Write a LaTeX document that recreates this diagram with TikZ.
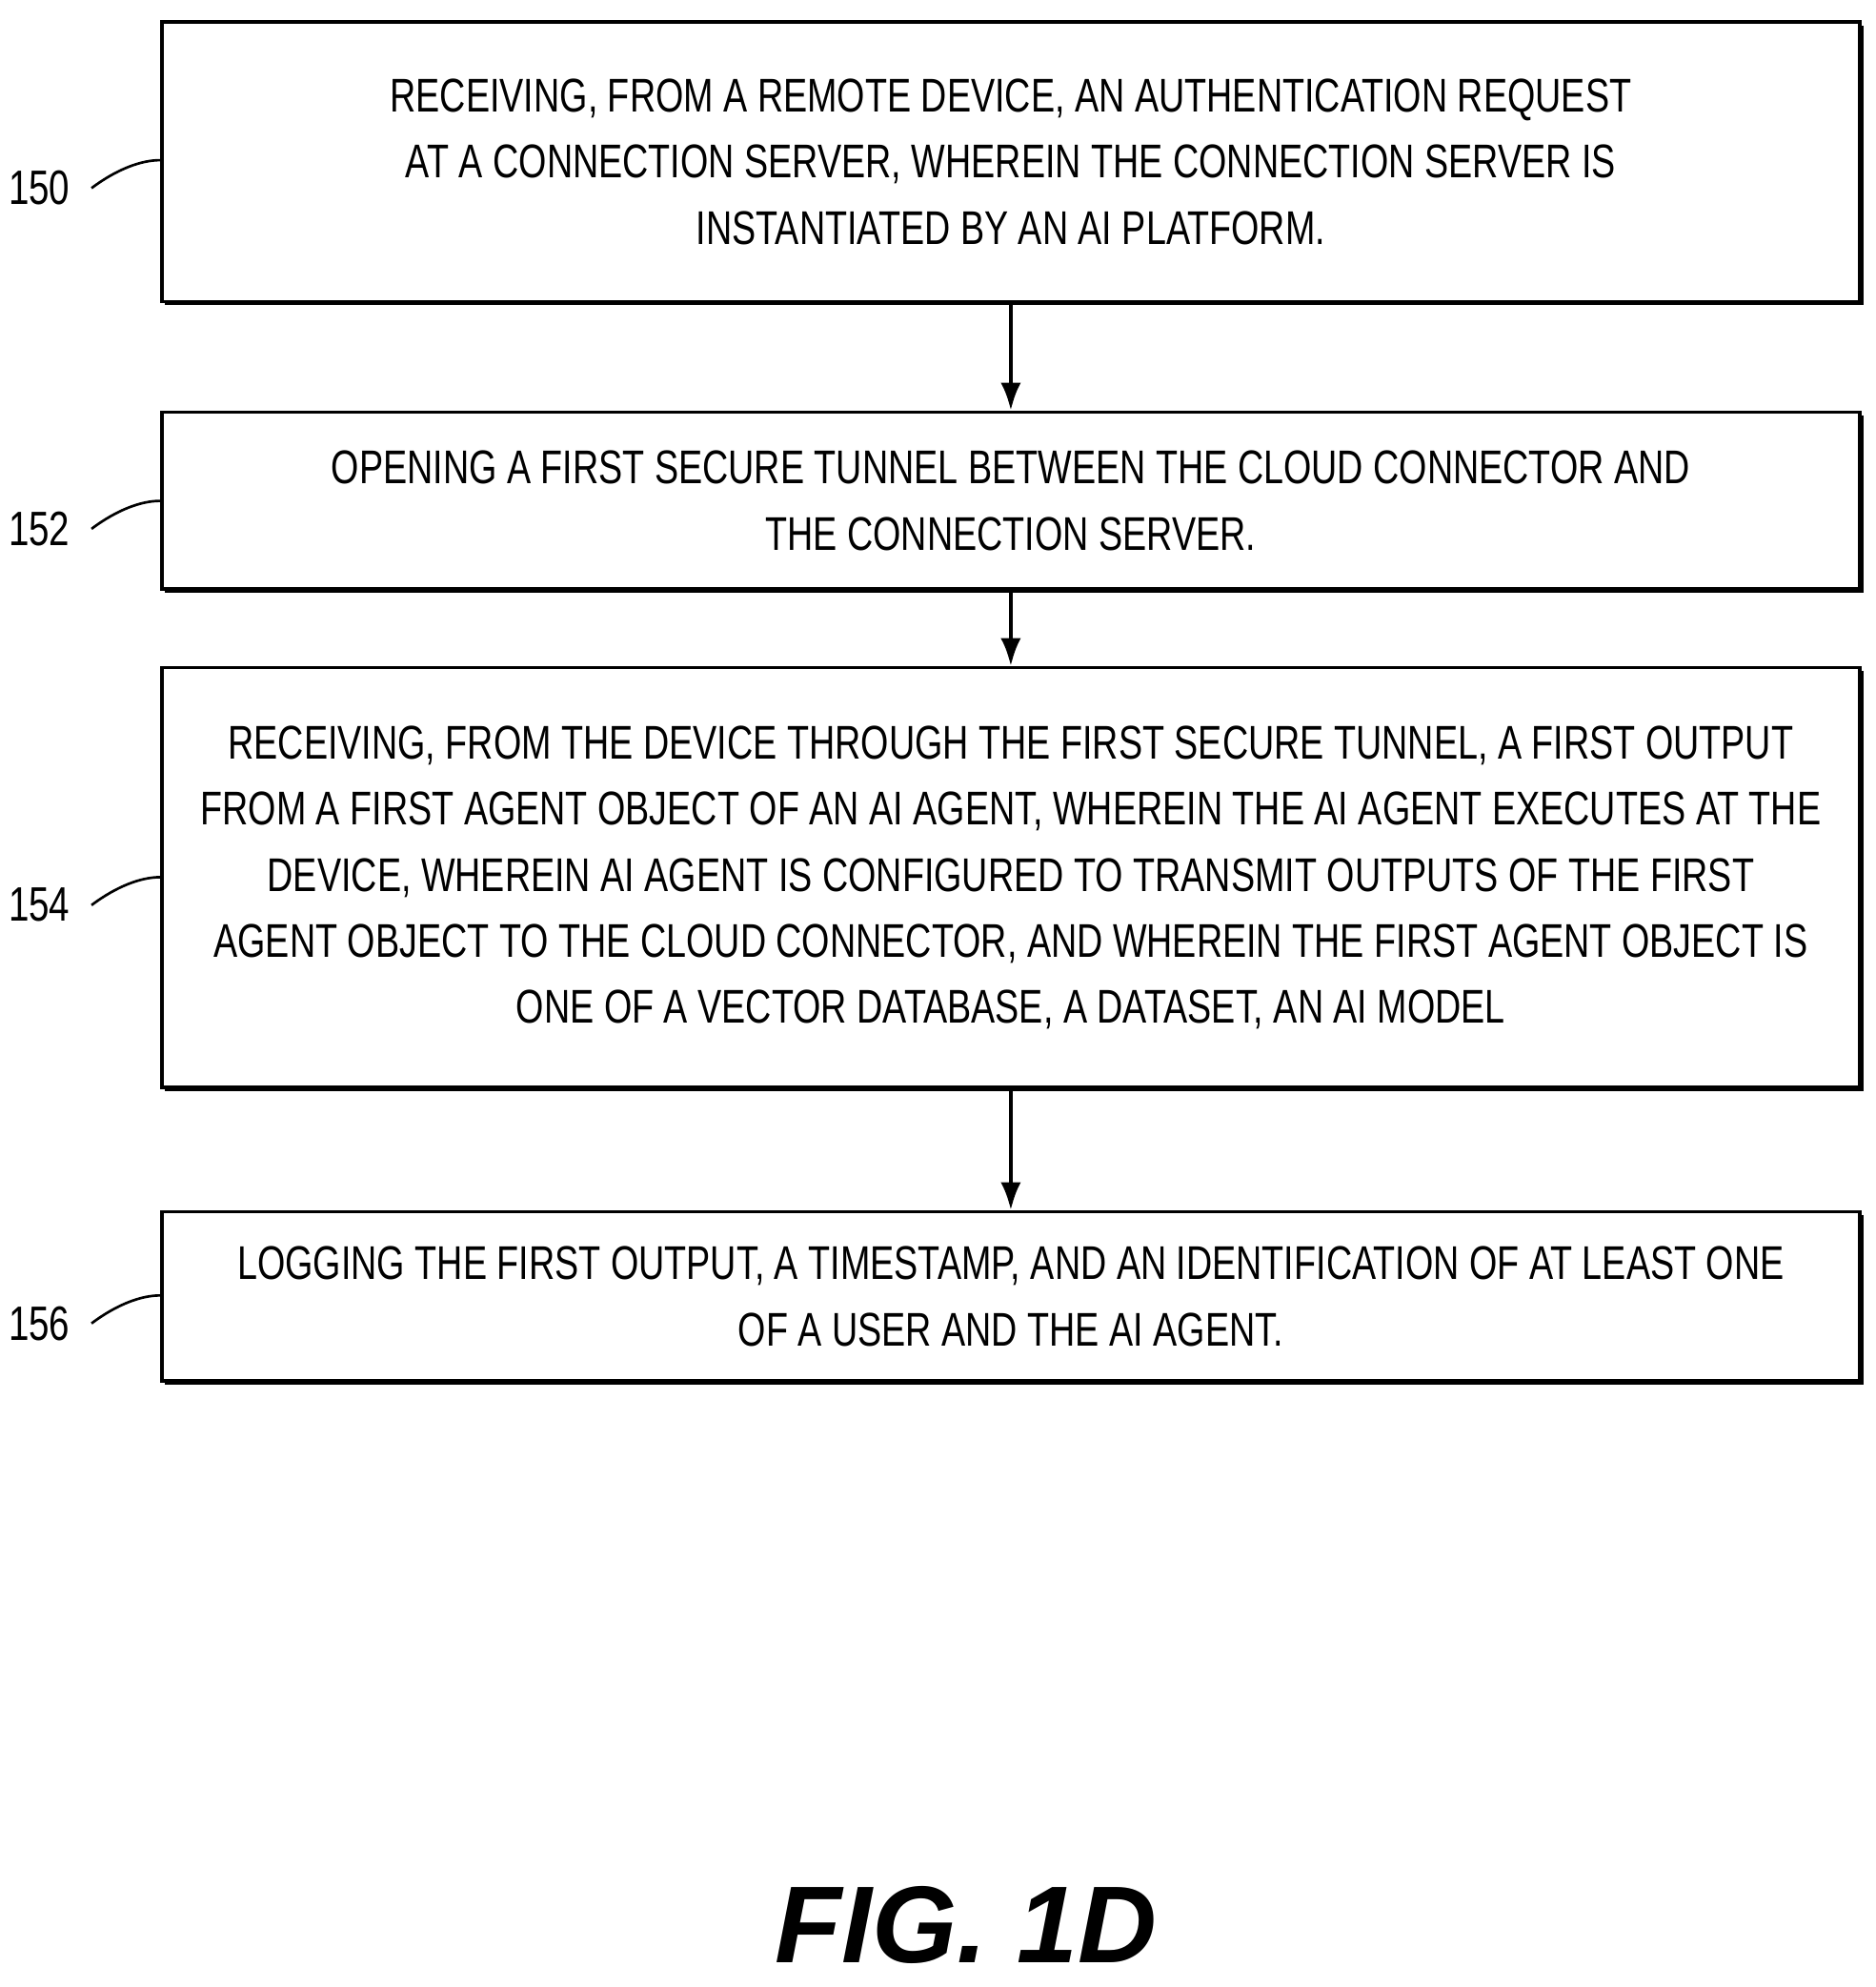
\documentclass[tikz,border=0pt]{standalone}
\usepackage{fontspec}
\usetikzlibrary{arrows.meta}
\setmainfont{Liberation Sans}[FakeStretch=0.76]
\newfontfamily\figfont{Liberation Sans}
\begin{document}
\begin{tikzpicture}[x=0.5pt,y=-0.5pt,
  box/.style={draw,line width=1.3pt,minimum width=668pt,anchor=north west,inner sep=0pt,align=center,font=\fontsize{18.6}{26}\selectfont},
  lab/.style={font=\fontsize{19}{22}\selectfont},
  arr/.style={-{Latex[length=11pt,width=8pt]},line width=1.6pt}]
\useasboundingbox (0,0) rectangle (1476,1563);
\newcommand{\stepbox}[6]{%
 \fill[black] (130,#2+4) rectangle (1466,#3+4);
 \node[box,fill=white,minimum height=#3*0.5pt-#2*0.5pt] (#1) at (126,#2) {#4};
 \node[lab,anchor=east] (#1l) at (62,#5) {#6};
 \draw[line width=1pt] (#1l.east)++(10,0) .. controls +(20,-15) and +(-15,0) .. (126,#5-22);
}
\stepbox{a}{16}{236}{RECEIVING, FROM A REMOTE DEVICE, AN AUTHENTICATION REQUEST\\AT A CONNECTION SERVER, WHEREIN THE CONNECTION SERVER IS\\INSTANTIATED BY AN AI PLATFORM.}{148}{150}
\stepbox{b}{323}{462}{OPENING A FIRST SECURE TUNNEL BETWEEN THE CLOUD CONNECTOR AND\\THE CONNECTION SERVER.}{416}{152}
\stepbox{c}{524}{854}{RECEIVING, FROM THE DEVICE THROUGH THE FIRST SECURE TUNNEL, A FIRST OUTPUT\\FROM A FIRST AGENT OBJECT OF AN AI AGENT, WHEREIN THE AI AGENT EXECUTES AT THE\\DEVICE, WHEREIN AI AGENT IS CONFIGURED TO TRANSMIT OUTPUTS OF THE FIRST\\AGENT OBJECT TO THE CLOUD CONNECTOR, AND WHEREIN THE FIRST AGENT OBJECT IS\\ONE OF A VECTOR DATABASE, A DATASET, AN AI MODEL}{712}{154}
\stepbox{d}{952}{1085}{LOGGING THE FIRST OUTPUT, A TIMESTAMP, AND AN IDENTIFICATION OF AT LEAST ONE\\OF A USER AND THE AI AGENT.}{1041}{156}
\draw[arr] (a.south) -- (b.north);
\draw[arr] (b.south) -- (c.north);
\draw[arr] (c.south) -- (d.north);
\node[font=\figfont\fontsize{43}{48}\selectfont\bfseries\itshape] (fig) at (760,1514) {FIG. 1D};
\end{tikzpicture}
\end{document}
